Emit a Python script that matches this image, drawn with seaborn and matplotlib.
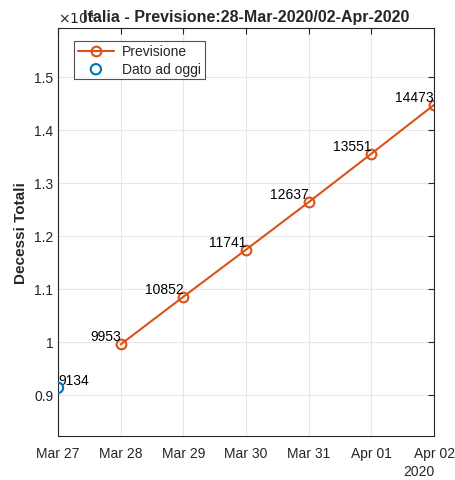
import matplotlib
matplotlib.use("Agg")
import matplotlib.pyplot as plt
import matplotlib.dates as mdates
import matplotlib.ticker as mticker
import seaborn as sns
import pandas as pd

# dati
date_prev = ["2020-03-28", "2020-03-29", "2020-03-30", "2020-03-31", "2020-04-01", "2020-04-02"]
decessi_prev = [9953, 10852, 11741, 12637, 13551, 14473]
data_oggi = ["2020-03-27"]
decessi_oggi = [9134]

arancio = "#D95319"
blu = "#0072BD"

df_prev = pd.DataFrame({"data": pd.to_datetime(date_prev), "decessi": decessi_prev})
df_oggi = pd.DataFrame({"data": pd.to_datetime(data_oggi), "decessi": decessi_oggi})

sns.set_style("white")
plt.rcParams["font.family"] = ["Liberation Sans", "DejaVu Sans"]

fig = plt.figure(figsize=(4.55, 4.81), dpi=100)
ax = fig.add_axes([0.1275, 0.0915, 0.8265, 0.8485])

sns.lineplot(data=df_prev, x="data", y="decessi", ax=ax, color=arancio, linewidth=1.5,
             marker="o", markersize=7, markerfacecolor="none", markeredgecolor=arancio,
             markeredgewidth=1.5, label="Previsione")
sns.scatterplot(data=df_oggi, x="data", y="decessi", ax=ax, s=55, facecolor="none",
                edgecolor=blu, linewidth=1.5, label="Dato ad oggi", zorder=5)

# etichette valori
for d, v in zip(df_prev["data"], df_prev["decessi"]):
    ax.text(d, v + 20, str(v), ha="right", va="bottom", fontsize=10, color="black")
for d, v in zip(df_oggi["data"], df_oggi["decessi"]):
    ax.text(d, v + 20, str(v), ha="left", va="bottom", fontsize=10, color="black")

ax.set_xlim(pd.Timestamp("2020-03-27"), pd.Timestamp("2020-04-02"))
ax.set_ylim(8225, 15925)
ax.xaxis.set_major_locator(mdates.DayLocator())
ax.xaxis.set_major_formatter(mdates.DateFormatter("%b %d"))
ax.yaxis.set_major_locator(mticker.MultipleLocator(1000))
ax.yaxis.set_major_formatter(mticker.FuncFormatter(lambda y, p: f"{y/1e4:g}"))

ax.grid(True, color="#e6e6e6", linewidth=0.8)
ax.set_axisbelow(True)
for s in ax.spines.values():
    s.set_color("#262626")
    s.set_linewidth(0.8)
ax.tick_params(direction="in", length=4, top=True, right=True, labelsize=10,
               colors="#262626", width=0.8)
ax.tick_params(axis="x", pad=7)

ax.set_xlabel("")
ax.set_ylabel("Decessi Totali", fontsize=11, fontweight="bold", color="#262626")
ax.set_title("Italia - Previsione:28-Mar-2020/02-Apr-2020", fontsize=11.5, fontweight="bold", pad=5)

ax.text(0.0, 1.005, r"$\times10^4$", transform=ax.transAxes, ha="left", va="bottom",
        fontsize=10, color="#262626")
ax.text(1.0, -0.068, "2020", transform=ax.transAxes, ha="right", va="top",
        fontsize=10, color="#262626")

leg = ax.legend(loc="upper left", bbox_to_anchor=(0.025, 0.985), fontsize=10,
                frameon=True, fancybox=False, edgecolor="#262626",
                handlelength=2.6, borderpad=0.25, labelspacing=0.25, handletextpad=0.6)
leg.get_frame().set_linewidth(0.8)

fig.savefig("out.png", dpi=100)
